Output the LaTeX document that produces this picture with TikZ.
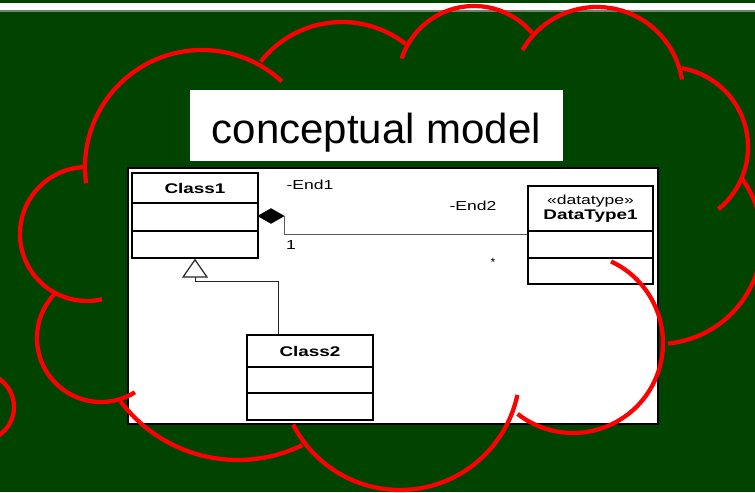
\documentclass[tikz,border=0pt]{standalone}
\usepackage{fontspec}
\setmainfont{Liberation Sans}
\newfontfamily\umlfont[FakeStretch=1.35]{Liberation Sans}
\usetikzlibrary{shapes.geometric,arrows.meta}

\definecolor{boardgreen}{RGB}{0,68,0}
\definecolor{cloudred}{RGB}{255,0,0}
\definecolor{rulegray}{RGB}{110,130,110}

% one circular bump of the cloud outline: centre x, centre y, radius, start angle, end angle
\newcommand\cloudarc[5]{%
  \draw[cloudline] plot[domain=#4:#5, samples=70, smooth] ({#1+#3*cos(\x)},{#2+#3*sin(\x)});}

\tikzset{
  cloudline/.style={draw=cloudred, line width=3.2pt},
  classpart/.style={draw=black, line width=1pt, fill=white, inner sep=0pt,
    font=\umlfont\bfseries\fontsize{10.5pt}{12pt}\selectfont},
  rolelabel/.style={inner sep=0pt, font=\umlfont\fontsize{9.75pt}{11pt}\selectfont},
  assoc/.style={draw=black!65, line width=0.75pt},
}

\begin{document}
\begin{tikzpicture}[x=0.75pt, y=-0.75pt]
  \useasboundingbox (0,0) rectangle (755,492);
  \clip (0,0) rectangle (755,492);

  % board and top rule
  \fill[boardgreen] (0,0) rectangle (755,492);
  \fill[white] (0,3.3) rectangle (755,10.3);
  \fill[rulegray] (0,10.3) rectangle (755,11.7);

  % diagram sheet
  \filldraw[fill=white, draw=black, line width=1.5pt] (128,168) rectangle (658,424);

  % title
  \node[fill=white, minimum width=279.75pt, minimum height=53.25pt, inner sep=0pt,
        text height=26.25pt, text depth=0pt,
        font=\fontsize{31.5pt}{36pt}\selectfont] (title) at (376.5,125.5) {conceptual model};

  % Class1
  \node[classpart, minimum width=94.5pt, minimum height=22.5pt] (c1) at (195,188) {Class1};
  \node[classpart, minimum width=94.5pt, minimum height=21pt] (c1a) at (195,217) {};
  \node[classpart, minimum width=94.5pt, minimum height=20.25pt] (c1b) at (195,244.5) {};

  % DataType1
  \node[classpart, minimum width=93.75pt, minimum height=33.75pt, align=center] (dt1) at (590.5,208.5)
    {{\mdseries\fontsize{9.75pt}{14.25pt}\selectfont «datatype»}\\[-0.5pt]DataType1};
  \node[classpart, minimum width=93.75pt, minimum height=20.25pt] (dt1a) at (590.5,244.5) {};
  \node[classpart, minimum width=93.75pt, minimum height=19.5pt] (dt1b) at (590.5,271) {};

  % Class2
  \node[classpart, minimum width=94.5pt, minimum height=24pt] (c2) at (310,351) {Class2};
  \node[classpart, minimum width=94.5pt, minimum height=19.5pt] (c2a) at (310,380) {};
  \node[classpart, minimum width=94.5pt, minimum height=20.25pt] (c2b) at (310,406.5) {};

  % composition Class1 -> DataType1
  \node[diamond, fill=black, draw=black, line width=0.5pt, inner sep=0pt,
        minimum width=19.5pt, minimum height=11.25pt] (agg) at (271,216) {};
  \draw[assoc] (agg.east) |- ([yshift=-3pt]dt1a.north west);
  \node[rolelabel] (end1) at (310,185) {-End1};
  \node[rolelabel] (mult1) at (291,245) {1};
  \node[rolelabel] (end2) at (473,206) {-End2};
  \node[inner sep=0pt, font=\fontsize{9pt}{9pt}\selectfont] (mult2) at (493,262) {*};

  % generalization Class2 -> Class1
  \coordinate (genbend) at (195,281);
  \draw[draw=black!85, line width=0.75pt,
        -{Triangle[open, length=14.25pt, width=19.5pt, line width=0.9pt]}]
    ([xshift=24pt]c2.north west) |- (genbend) -- (c1b.south);

  % cloud outline
  \cloudarc{202}{167}{117}{172}{313}
  \cloudarc{342}{125}{103}{218}{308}
  \cloudarc{474}{82}{76}{198}{320}
  \cloudarc{597}{93}{86}{210}{351}
  \cloudarc{668}{147}{80}{280}{411}
  \cloudarc{658}{240}{104}{324}{444.5}
  \cloudarc{573}{343}{90}{295}{488}
  \cloudarc{400}{370}{120}{12}{153}
  \cloudarc{238}{313}{147}{64}{143}
  \cloudarc{101}{338}{64}{58}{226}
  \cloudarc{87}{234}{67}{77}{269}
  \cloudarc{-20}{407}{34}{0}{360}
\end{tikzpicture}
\end{document}
